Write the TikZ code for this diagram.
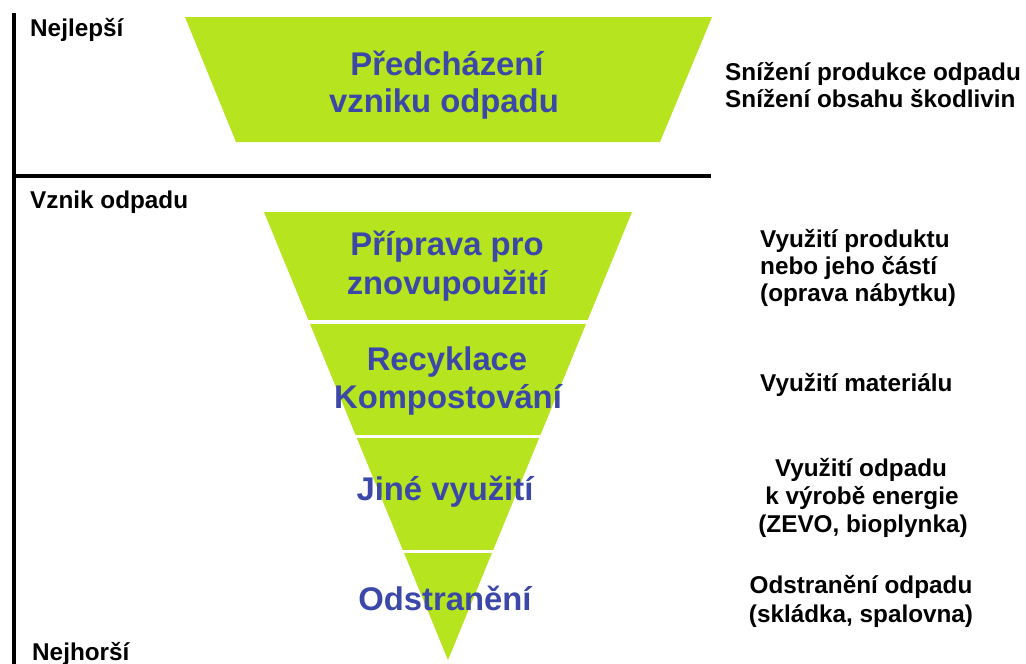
\documentclass[tikz,border=0pt]{standalone}
\usepackage{fontspec}
\setmainfont{Liberation Sans}
\definecolor{lime}{RGB}{182,228,30}
\definecolor{tblue}{RGB}{60,72,168}
\begin{document}
\begin{tikzpicture}[x=1pt,y=-1pt,
  big/.style={font=\fontsize{32.8}{38}\selectfont\bfseries, text=tblue, inner sep=0, anchor=base},
  note/.style={font=\fontsize{24.3}{28}\selectfont\bfseries, inner sep=0},
  notel/.style={note, anchor=base west},
  notec/.style={note, anchor=base},
  gap/.style={white, line width=3.6pt},
  axis/.style={black, line width=4pt}]
\useasboundingbox (0,0) rectangle (1026,664);
% shapes
\fill[lime] (185,17) -- (712,17) -- (660,142) -- (236,142) -- cycle;
\fill[lime] (264,212) -- (632,212) -- (448,660) -- cycle;
\draw[gap] (250,322) -- (650,322);
\draw[gap] (250,436.5) -- (650,436.5);
\draw[gap] (250,551.5) -- (650,551.5);
% axes
\coordinate (vtop) at (14,13);
\coordinate (vbot) at (14,664);
\coordinate (hl) at (12,176);
\coordinate (hr) at (711,176);
\draw[axis] (vtop) -- (vbot);
\draw[axis] (hl) -- (hr);
% left labels
\node[notel] (best) at (30,36) {Nejlepší};
\node[notel] (origin) at (30,208) {Vznik odpadu};
\node[notel] (worst) at (32,660) {Nejhorší};
% blue labels
\node[big] (p1) at (447,75) {Předcházení};
\node[big] (p2) at (444,112) {vzniku odpadu};
\node[big] (r1) at (447,255) {Příprava pro};
\node[big] (r2) at (447,294) {znovupoužití};
\node[big] (k1) at (447,370) {Recyklace};
\node[big] (k2) at (448,408) {Kompostování};
\node[big] (j1) at (445,500) {Jiné využití};
\node[big] (o1) at (445,610) {Odstranění};
% right notes
\node[notel] (n1) at (725,80) {Snížení produkce odpadu};
\node[notel] (n2) at (725,107) {Snížení obsahu škodlivin};
\node[notel] (m1) at (760,247) {Využití produktu};
\node[notel] (m2) at (760,274) {nebo jeho částí};
\node[notel] (m3) at (760,301) {(oprava nábytku)};
\node[notel] (m4) at (760,391) {Využití materiálu};
\node[notec] (e1) at (861,476) {Využití odpadu};
\node[notec] (e2) at (862,504) {k výrobě energie};
\node[notec] (e3) at (863,532) {(ZEVO, bioplynka)};
\node[notec] (d1) at (861,593) {Odstranění odpadu};
\node[notec] (d2) at (861,622) {(skládka, spalovna)};
\end{tikzpicture}
\end{document}
